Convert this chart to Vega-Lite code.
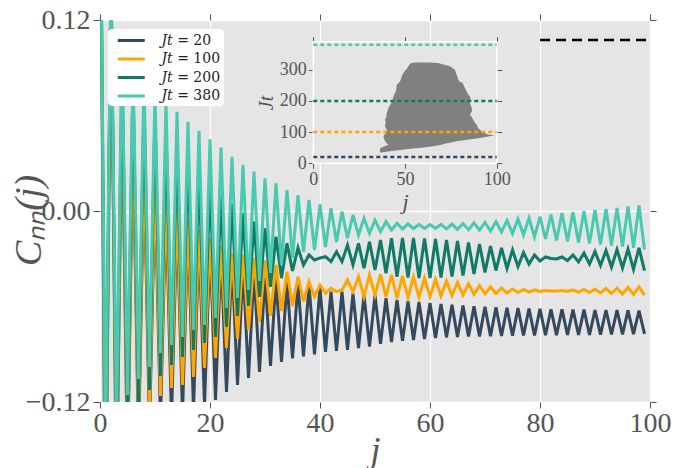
{
"$schema": "https://vega.github.io/schema/vega-lite/v6.json",
"width": 550, "height": 382,
"autosize": "none",
"padding": {"left": 100, "top": 20, "right": 32, "bottom": 66},
"background": "white",
"config": {
  "view": {"fill": "#e5e5e5", "stroke": null},
  "font": "Liberation Serif",
  "axis": {"labelFont": "Liberation Serif", "titleFont": "Liberation Serif", "labelColor": "#555555", "titleColor": "#555555", "tickColor": "#555555", "domain": false, "grid": false, "titleFontWeight": "normal", "labelFlush": false},
  "legend": {"labelFont": "DejaVu Serif"}
},
"datasets": {
  "main": [
    {"j":0,"t020":0.24,"t100":0.24,"t200":0.24,"t380":0.24},
    {"j":1,"t020":-0.2192,"t100":-0.2003,"t200":-0.1815,"t380":-0.1601},
    {"j":2,"t020":0.15,"t100":0.15,"t200":0.15,"t380":0.15},
    {"j":3,"t020":-0.1878,"t100":-0.1689,"t200":-0.1564,"t380":-0.1413},
    {"j":4,"t020":0.0728,"t100":0.0791,"t200":0.0948,"t380":0.1042},
    {"j":5,"t020":-0.1627,"t100":-0.1470,"t200":-0.1344,"t380":-0.1156},
    {"j":6,"t020":0.0477,"t100":0.0540,"t200":0.0823,"t380":0.0936},
    {"j":7,"t020":-0.1470,"t100":-0.1344,"t200":-0.1218,"t380":-0.1055},
    {"j":8,"t020":0.0289,"t100":0.0352,"t200":0.0716,"t380":0.0842},
    {"j":9,"t020":-0.1375,"t100":-0.1250,"t200":-0.1124,"t380":-0.0980},
    {"j":10,"t020":0.0144,"t100":0.0207,"t200":0.0622,"t380":0.0760},
    {"j":11,"t020":-0.1313,"t100":-0.1162,"t200":-0.1036,"t380":-0.0892},
    {"j":12,"t020":0.0038,"t100":0.0100,"t200":0.0521,"t380":0.0691},
    {"j":13,"t020":-0.1300,"t100":-0.1112,"t200":-0.0967,"t380":-0.0842},
    {"j":14,"t020":-0.0044,"t100":0.0019,"t200":0.0433,"t380":0.0624},
    {"j":15,"t020":-0.1275,"t100":-0.1093,"t200":-0.0917,"t380":-0.0791},
    {"j":16,"t020":-0.0107,"t100":-0.0057,"t200":0.0352,"t380":0.0561},
    {"j":17,"t020":-0.1250,"t100":-0.1042,"t200":-0.0873,"t380":-0.0747},
    {"j":18,"t020":-0.0163,"t100":-0.0119,"t200":0.0257,"t380":0.0504},
    {"j":19,"t020":-0.1218,"t100":-0.0986,"t200":-0.0829,"t380":-0.0716},
    {"j":20,"t020":-0.0214,"t100":-0.0170,"t200":0.0176,"t380":0.0450},
    {"j":21,"t020":-0.1187,"t100":-0.0923,"t200":-0.0791,"t380":-0.0672},
    {"j":22,"t020":-0.0264,"t100":-0.0214,"t200":0.0100,"t380":0.0398},
    {"j":23,"t020":-0.1137,"t100":-0.0860,"t200":-0.0728,"t380":-0.0609},
    {"j":24,"t020":-0.0308,"t100":-0.0264,"t200":0.0044,"t380":0.0341},
    {"j":25,"t020":-0.1093,"t100":-0.0804,"t200":-0.0659,"t380":-0.0546},
    {"j":26,"t020":-0.0345,"t100":-0.0276,"t200":-0.0013,"t380":0.0289},
    {"j":27,"t020":-0.1049,"t100":-0.0747,"t200":-0.0597,"t380":-0.0496},
    {"j":28,"t020":-0.0377,"t100":-0.0295,"t200":-0.0067,"t380":0.0247},
    {"j":29,"t020":-0.1011,"t100":-0.0697,"t200":-0.0540,"t380":-0.0440},
    {"j":30,"t020":-0.0408,"t100":-0.0308,"t200":-0.0109,"t380":0.0205},
    {"j":31,"t020":-0.0973,"t100":-0.0659,"t200":-0.0477,"t380":-0.0389},
    {"j":32,"t020":-0.0427,"t100":-0.0339,"t200":-0.0161,"t380":0.0174},
    {"j":33,"t020":-0.0948,"t100":-0.0628,"t200":-0.0421,"t380":-0.0339},
    {"j":34,"t020":-0.0446,"t100":-0.0381,"t200":-0.0203,"t380":0.0132},
    {"j":35,"t020":-0.0926,"t100":-0.0597,"t200":-0.0377,"t380":-0.0295},
    {"j":36,"t020":-0.0458,"t100":-0.0413,"t200":-0.0232,"t380":0.0100},
    {"j":37,"t020":-0.0914,"t100":-0.0568,"t200":-0.0339,"t380":-0.0257},
    {"j":38,"t020":-0.0468,"t100":-0.0444,"t200":-0.0276,"t380":0.0069},
    {"j":39,"t020":-0.0901,"t100":-0.0538,"t200":-0.0308,"t380":-0.0245},
    {"j":40,"t020":-0.0485,"t100":-0.0465,"t200":-0.0295,"t380":0.0042},
    {"j":41,"t020":-0.0885,"t100":-0.0517,"t200":-0.0287,"t380":-0.0226},
    {"j":42,"t020":-0.0507,"t100":-0.0485,"t200":-0.0318,"t380":0.0017},
    {"j":43,"t020":-0.0879,"t100":-0.0507,"t200":-0.0256,"t380":-0.0195},
    {"j":44,"t020":-0.0507,"t100":-0.0496,"t200":-0.0318,"t380":-0.0004},
    {"j":45,"t020":-0.0873,"t100":-0.0433,"t200":-0.0214,"t380":-0.0171},
    {"j":46,"t020":-0.0517,"t100":-0.0507,"t200":-0.0339,"t380":-0.0025},
    {"j":47,"t020":-0.0862,"t100":-0.0413,"t200":-0.0203,"t380":-0.0151},
    {"j":48,"t020":-0.0528,"t100":-0.0538,"t200":-0.0360,"t380":-0.0046},
    {"j":49,"t020":-0.0852,"t100":-0.0402,"t200":-0.0193,"t380":-0.0140},
    {"j":50,"t020":-0.0528,"t100":-0.0528,"t200":-0.0371,"t380":-0.0057},
    {"j":51,"t020":-0.0835,"t100":-0.0398,"t200":-0.0182,"t380":-0.0130},
    {"j":52,"t020":-0.0548,"t100":-0.0538,"t200":-0.0391,"t380":-0.0067},
    {"j":53,"t020":-0.0823,"t100":-0.0402,"t200":-0.0171,"t380":-0.0119},
    {"j":54,"t020":-0.0559,"t100":-0.0548,"t200":-0.0413,"t380":-0.0077},
    {"j":55,"t020":-0.0816,"t100":-0.0408,"t200":-0.0170,"t380":-0.0113},
    {"j":56,"t020":-0.0565,"t100":-0.0543,"t200":-0.0418,"t380":-0.0082},
    {"j":57,"t020":-0.0810,"t100":-0.0414,"t200":-0.0170,"t380":-0.0110},
    {"j":58,"t020":-0.0571,"t100":-0.0540,"t200":-0.0421,"t380":-0.0085},
    {"j":59,"t020":-0.0804,"t100":-0.0421,"t200":-0.0173,"t380":-0.0109},
    {"j":60,"t020":-0.0578,"t100":-0.0537,"t200":-0.0421,"t380":-0.0085},
    {"j":61,"t020":-0.0798,"t100":-0.0430,"t200":-0.0176,"t380":-0.0110},
    {"j":62,"t020":-0.0584,"t100":-0.0534,"t200":-0.0418,"t380":-0.0084},
    {"j":63,"t020":-0.0794,"t100":-0.0440,"t200":-0.0182,"t380":-0.0112},
    {"j":64,"t020":-0.0589,"t100":-0.0531,"t200":-0.0411,"t380":-0.0082},
    {"j":65,"t020":-0.0791,"t100":-0.0449,"t200":-0.0188,"t380":-0.0115},
    {"j":66,"t020":-0.0593,"t100":-0.0528,"t200":-0.0405,"t380":-0.0079},
    {"j":67,"t020":-0.0789,"t100":-0.0458,"t200":-0.0198,"t380":-0.0118},
    {"j":68,"t020":-0.0598,"t100":-0.0524,"t200":-0.0396,"t380":-0.0075},
    {"j":69,"t020":-0.0788,"t100":-0.0468,"t200":-0.0207,"t380":-0.0121},
    {"j":70,"t020":-0.0602,"t100":-0.0521,"t200":-0.0386,"t380":-0.0072},
    {"j":71,"t020":-0.0787,"t100":-0.0477,"t200":-0.0220,"t380":-0.0126},
    {"j":72,"t020":-0.0605,"t100":-0.0518,"t200":-0.0374,"t380":-0.0066},
    {"j":73,"t020":-0.0785,"t100":-0.0484,"t200":-0.0232,"t380":-0.0132},
    {"j":74,"t020":-0.0608,"t100":-0.0515,"t200":-0.0361,"t380":-0.0060},
    {"j":75,"t020":-0.0784,"t100":-0.0490,"t200":-0.0245,"t380":-0.0141},
    {"j":76,"t020":-0.0610,"t100":-0.0512,"t200":-0.0349,"t380":-0.0050},
    {"j":77,"t020":-0.0782,"t100":-0.0493,"t200":-0.0261,"t380":-0.0151},
    {"j":78,"t020":-0.0613,"t100":-0.0509,"t200":-0.0333,"t380":-0.0044},
    {"j":79,"t020":-0.0782,"t100":-0.0496,"t200":-0.0276,"t380":-0.0163},
    {"j":80,"t020":-0.0615,"t100":-0.0506,"t200":-0.0314,"t380":-0.0035},
    {"j":81,"t020":-0.0781,"t100":-0.0499,"t200":-0.0289,"t380":-0.0176},
    {"j":82,"t020":-0.0617,"t100":-0.0502,"t200":-0.0298,"t380":-0.0022},
    {"j":83,"t020":-0.0780,"t100":-0.0502,"t200":-0.0301,"t380":-0.0185},
    {"j":84,"t020":-0.0618,"t100":-0.0499,"t200":-0.0289,"t380":-0.0013},
    {"j":85,"t020":-0.0779,"t100":-0.0506,"t200":-0.0311,"t380":-0.0192},
    {"j":86,"t020":-0.0619,"t100":-0.0496,"t200":-0.0276,"t380":-0.0006},
    {"j":87,"t020":-0.0779,"t100":-0.0509,"t200":-0.0320,"t380":-0.0198},
    {"j":88,"t020":-0.0620,"t100":-0.0493,"t200":-0.0264,"t380":0.0000},
    {"j":89,"t020":-0.0779,"t100":-0.0512,"t200":-0.0333,"t380":-0.0204},
    {"j":90,"t020":-0.0622,"t100":-0.0490,"t200":-0.0254,"t380":0.0006},
    {"j":91,"t020":-0.0777,"t100":-0.0515,"t200":-0.0342,"t380":-0.0210},
    {"j":92,"t020":-0.0622,"t100":-0.0487,"t200":-0.0248,"t380":0.0013},
    {"j":93,"t020":-0.0776,"t100":-0.0518,"t200":-0.0352,"t380":-0.0217},
    {"j":94,"t020":-0.0623,"t100":-0.0484,"t200":-0.0242,"t380":0.0019},
    {"j":95,"t020":-0.0775,"t100":-0.0521,"t200":-0.0358,"t380":-0.0223},
    {"j":96,"t020":-0.0624,"t100":-0.0480,"t200":-0.0239,"t380":0.0028},
    {"j":97,"t020":-0.0774,"t100":-0.0524,"t200":-0.0367,"t380":-0.0232},
    {"j":98,"t020":-0.0625,"t100":-0.0477,"t200":-0.0232,"t380":0.0035},
    {"j":99,"t020":-0.0772,"t100":-0.0528,"t200":-0.0374,"t380":-0.0242}
  ],
  "black": [{"j": 80, "C": 0.1074}, {"j": 100, "C": 0.1074}],
  "shape": [
    {"Jt":35,"jl":36.4,"jr":37},{"Jt":38.4,"jl":36.4,"jr":41.8},{"Jt":46.9,"jl":36.4,"jr":52.7},
    {"Jt":49,"jl":36.6,"jr":58},{"Jt":54.4,"jl":39,"jr":65.4},{"Jt":59.7,"jl":40.9,"jr":70},
    {"Jt":62,"jl":40.5,"jr":71},{"Jt":70.5,"jl":39.1,"jr":78.2},{"Jt":81,"jl":38.5,"jr":90.9},
    {"Jt":86.5,"jl":38.2,"jr":96},{"Jt":89.7,"jl":38.5,"jr":99},{"Jt":92,"jl":39,"jr":95},
    {"Jt":97,"jl":39.5,"jr":93.6},{"Jt":103,"jl":40.2,"jr":91.5},{"Jt":108,"jl":40,"jr":90.9},
    {"Jt":113,"jl":39.6,"jr":89.8},{"Jt":118.6,"jl":39.1,"jr":89.5},
    {"Jt":124,"jl":39.1,"jr":89.1},{"Jt":132,"jl":39.6,"jr":88},{"Jt":140,"jl":39.1,"jr":87.2},
    {"Jt":148,"jl":39.8,"jr":86.5},{"Jt":156,"jl":40,"jr":85.4},
    {"Jt":161,"jl":40,"jr":86},{"Jt":169,"jl":40.6,"jr":86.6},{"Jt":177,"jl":40.9,"jr":86.4},
    {"Jt":185,"jl":41.8,"jr":85.9},{"Jt":193,"jl":42.5,"jr":85.4},
    {"Jt":199,"jl":43.3,"jr":85.4},{"Jt":207,"jl":43.4,"jr":85.8},{"Jt":215,"jl":43.8,"jr":85.4},
    {"Jt":220,"jl":44,"jr":84.5},
    {"Jt":231,"jl":45.1,"jr":83.6},{"Jt":241.5,"jl":45.3,"jr":82.7},{"Jt":252,"jl":45.5,"jr":81.8},
    {"Jt":257.5,"jl":46.5,"jr":81.5},{"Jt":263,"jl":47.3,"jr":79.5},{"Jt":268,"jl":47.7,"jr":79.1},
    {"Jt":279,"jl":48.2,"jr":78.5},{"Jt":284,"jl":48.6,"jr":78.2},{"Jt":290,"jl":49.1,"jr":77.8},
    {"Jt":300,"jl":50.5,"jr":77.3},{"Jt":306,"jl":51.3,"jr":76},{"Jt":311,"jl":51.8,"jr":74.5},
    {"Jt":316,"jl":52.3,"jr":71.5},{"Jt":321.7,"jl":53.5,"jr":68},{"Jt":323,"jl":56,"jr":64}
  ],
  "tlines": [
    {"series":"t020","Jt":20,"ij":0},{"series":"t020","Jt":20,"ij":100},
    {"series":"t100","Jt":100,"ij":0},{"series":"t100","Jt":100,"ij":100},
    {"series":"t200","Jt":200,"ij":0},{"series":"t200","Jt":200,"ij":100},
    {"series":"t380","Jt":380,"ij":0},{"series":"t380","Jt":380,"ij":100}
  ]
},
"layer": [
  {
    "layer": [
      {
        "data": {"name": "main"},
        "transform": [{"fold": ["t020", "t100", "t200", "t380"], "as": ["series", "C"]}],
        "mark": {"type": "line", "strokeWidth": 3, "clip": true},
        "encoding": {
          "x": {"field": "j", "type": "quantitative", "scale": {"domain": [0, 100], "nice": false},
                "axis": {"orient": "bottom", "values": [0, 20, 40, 60, 80, 100], "grid": true, "gridColor": "white", "gridWidth": 1.3, "tickSize": 6, "labelFontSize": 28, "labelPadding": 1, "title": "j", "titleFontSize": 36, "titleFontStyle": "italic", "titleBaseline": "alphabetic", "titleY": 59}},
          "y": {"field": "C", "type": "quantitative", "scale": {"domain": [-0.12, 0.12], "nice": false, "zero": false},
                "axis": {"orient": "left", "values": [-0.12, 0, 0.12], "format": ".2f", "grid": true, "gridColor": "white", "gridWidth": 1.3, "tickSize": 7, "labelFontSize": 28, "labelPadding": 3, "title": "Cₙₙ(j)", "titleFontSize": 38, "titleFontStyle": "italic", "titleBaseline": "alphabetic", "titleX": -60, "titleY": 200, "titleAngle": -90}},
          "color": {"field": "series", "type": "nominal",
                    "scale": {"domain": ["t020", "t100", "t200", "t380"], "range": ["#34495e", "#ffa500", "#117a65", "#48c9b0"]},
                    "legend": {"orient": "none", "legendX": 8, "legendY": 9, "title": null, "symbolType": "M-2,0L2,0", "symbolSize": 182, "symbolStrokeWidth": 3, "symbolOffset": 11.75, "labelFontSize": 14, "labelColor": "#222222", "labelOffset": 21.75, "fillColor": "white", "cornerRadius": 4, "padding": 3, "rowPadding": 2.5,
                               "labelExpr": "'𝐽𝑡 = ' + toNumber(slice(datum.label, 1))"}}
        }
      },
      {
        "data": {"name": "black"},
        "mark": {"type": "line", "color": "black", "strokeWidth": 2.5, "strokeDash": [10, 6]},
        "encoding": {
          "x": {"field": "j", "type": "quantitative", "axis": {"orient": "top", "values": [0, 20, 40, 60, 80, 100], "labels": false, "tickSize": 6, "title": null}},
          "y": {"field": "C", "type": "quantitative", "axis": {"orient": "right", "values": [-0.12, 0, 0.12], "labels": false, "tickSize": 6, "title": null}}
        }
      }
    ],
    "resolve": {"axis": {"x": "independent", "y": "independent"}}
  },
  {
    "layer": [
      {
        "data": {"values": [{}]},
        "mark": {"type": "rect", "fill": "#e5e5e5", "stroke": "white", "strokeWidth": 1.5},
        "encoding": {
          "x": {"datum": 0, "type": "quantitative", "scale": {"domain": [0, 100], "range": [213.3, 396.7], "nice": false},
                "axis": {"orient": "bottom", "offset": -238.7, "values": [0, 50, 100], "tickSize": 5, "labelFontSize": 18, "labelPadding": 2, "title": "j", "titleFontSize": 22, "titleFontStyle": "italic", "titlePadding": 3}},
          "x2": {"datum": 100},
          "y": {"datum": 0, "type": "quantitative", "scale": {"domain": [0, 390], "range": [143.3, 21.7], "nice": false},
                "axis": {"orient": "left", "offset": -213.3, "values": [0, 100, 200, 300], "tickSize": 5, "labelFontSize": 18, "labelPadding": 2, "title": "Jt", "titleFontSize": 20, "titleFontStyle": "italic", "titlePadding": 3}},
          "y2": {"datum": 390}
        }
      },
      {
        "data": {"name": "shape"},
        "mark": {"type": "area", "orient": "horizontal", "color": "#808080"},
        "encoding": {
          "y": {"field": "Jt", "type": "quantitative", "axis": {"orient": "right", "offset": -153.3, "values": [0, 100, 200, 300], "labels": false, "tickSize": 5, "title": null}},
          "x": {"field": "jl", "type": "quantitative", "axis": {"orient": "top", "offset": -21.7, "values": [0, 50, 100], "labels": false, "tickSize": 5, "title": null}},
          "x2": {"field": "jr"}
        }
      },
      {
        "data": {"name": "tlines"},
        "mark": {"type": "line", "strokeWidth": 2.5, "strokeDash": [4, 3]},
        "encoding": {
          "x": {"field": "ij", "type": "quantitative", "axis": null},
          "y": {"field": "Jt", "type": "quantitative", "axis": null},
          "color": {"field": "series", "type": "nominal"}
        }
      }
    ],
    "resolve": {"axis": {"x": "independent", "y": "independent"}}
  }
],
"resolve": {"scale": {"x": "independent", "y": "independent"}}
}
